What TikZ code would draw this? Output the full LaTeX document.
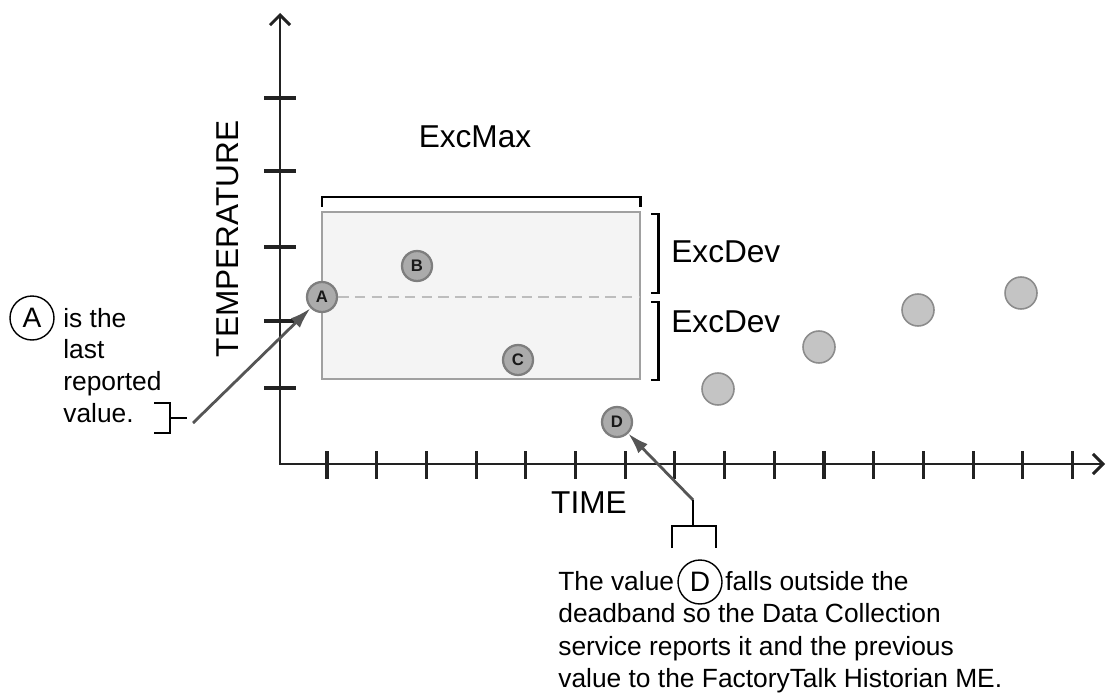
\documentclass[tikz,border=0pt]{standalone}
\usepackage{fontspec}
\setmainfont{Liberation Sans}
\usetikzlibrary{arrows.meta}
\definecolor{boxfill}{HTML}{F4F4F4}
\definecolor{boxline}{HTML}{A0A0A0}
\definecolor{dashcol}{HTML}{BDBDBD}
\definecolor{ptrcol}{HTML}{555555}
\definecolor{axcol}{HTML}{222222}
\definecolor{ptfill}{HTML}{ABABAB}
\definecolor{ptline}{HTML}{7E7E7E}
\definecolor{dotfill}{HTML}{C4C4C4}
\definecolor{dotline}{HTML}{8C8C8C}
\begin{document}
\begin{tikzpicture}[x=0.02cm,y=-0.02cm,
  axis/.style={line width=1.7pt, draw=axcol, line join=miter},
  tickmark/.style={line width=1.8pt, draw=axcol},
  brk/.style={line width=1.7pt, draw=black},
  thinbrk/.style={line width=1.1pt, draw=black},
  ptr/.style={line width=1.6pt, draw=ptrcol, -{Latex[length=0.42cm,width=0.26cm]}},
  datapt/.style={circle, minimum size=0.6cm, inner sep=0pt, fill=ptfill, draw=ptline, line width=1.3pt, font=\fontsize{9.5}{10}\selectfont\bfseries, text=black!90},
  dot/.style={circle, minimum size=0.64cm, inner sep=0pt, fill=dotfill, draw=dotline, line width=0.9pt},
  lbl/.style={font=\fontsize{18}{21}\selectfont, inner sep=0pt},
  anno/.style={font=\fontsize{15}{18}\selectfont, inner sep=0pt, anchor=base west},
  circlbl/.style={circle, draw=black, line width=0.8pt, minimum size=0.88cm, inner sep=0pt, font=\fontsize{16}{18}\selectfont},
  barb/.tip={Straight Barb[length=0.2cm,width=0.4cm]}
]
\useasboundingbox (0,0) rectangle (1108,699);
\fill[white] (0,0) rectangle (1108,699);

% deadband box
\filldraw[fill=boxfill, draw=boxline, line width=1.1pt] (322,212) rectangle (640,379);

% axes
\draw[axis, barb-barb] (280,13) -- (280,464) -- (1105,464);
\foreach \y in {98,171,247,321,388}
  \draw[tickmark] (264,\y) -- (296,\y);
\foreach \k in {0,...,15}
  \draw[tickmark] ({327+49.7*\k},451) -- ({327+49.7*\k},479);

% axis labels
\node[lbl, rotate=90] (ylabel) at (228,239) {TEMPERATURE};
\node[lbl] (xlabel) at (589,503) {TIME};

% ExcMax bracket and label
\draw[brk] (322,207) -- (322,197) -- (640,197) -- (640,207);
\node[lbl] (excmax) at (475,137) {ExcMax};

% ExcDev brackets and labels
\draw[brk] (651,214) -- (658,214) -- (658,293) -- (651,293);
\draw[brk] (651,302) -- (658,302) -- (658,380) -- (651,380);
\node[lbl, anchor=west] (excdev1) at (671,252) {ExcDev};
\node[lbl, anchor=west] (excdev2) at (671,322) {ExcDev};

% data points
\node[datapt] (ptA) at (322,297) {A};
\coordinate (dashEnd) at (640,297);
\draw[draw=dashcol, line width=1.4pt, dash pattern=on 6pt off 3.5pt] (ptA.east) -- (dashEnd);
\node[datapt] (ptB) at (417,266) {B};
\node[datapt] (ptC) at (518,360) {C};
\node[datapt] (ptD) at (617,422) {D};
\node[dot] (dot1) at (718,389) {};
\node[dot] (dot2) at (819,347) {};
\node[dot] (dot3) at (918,310) {};
\node[dot] (dot4) at (1021,293) {};

% annotation for A
\node[circlbl] (circA) at (32,318) {A};
\node[anno] (annoA1) at (63,327) {is the};
\node[anno] (annoA2) at (63,358) {last};
\node[anno] (annoA3) at (63,390) {reported};
\node[anno] (annoA4) at (63,422) {value.};
\draw[thinbrk] (154,403) -- (170,403) -- (170,433) -- (154,433);
\draw[thinbrk] (170,418) -- (187,418);
\coordinate (tailA) at (193,423);
\draw[ptr] (tailA) -- (ptA);

% annotation for D
\coordinate (tailD) at (693,500);
\draw[ptr] (tailD) -- (ptD);
\draw[thinbrk] (693,500) -- (693,526);
\draw[thinbrk] (672,548) -- (672,526) -- (716,526) -- (716,548);
\node[anno] (capD1a) at (558,590) {The value};
\node[circlbl] (circD) at (700,582) {D};
\node[anno] (capD1b) at (725,590) {falls outside the};
\node[anno] (capD2) at (558,622.5) {deadband so the Data Collection};
\node[anno] (capD3) at (558,655) {service reports it and the previous};
\node[anno] (capD4) at (558,687.5) {value to the FactoryTalk Historian ME.};
\end{tikzpicture}
\end{document}
